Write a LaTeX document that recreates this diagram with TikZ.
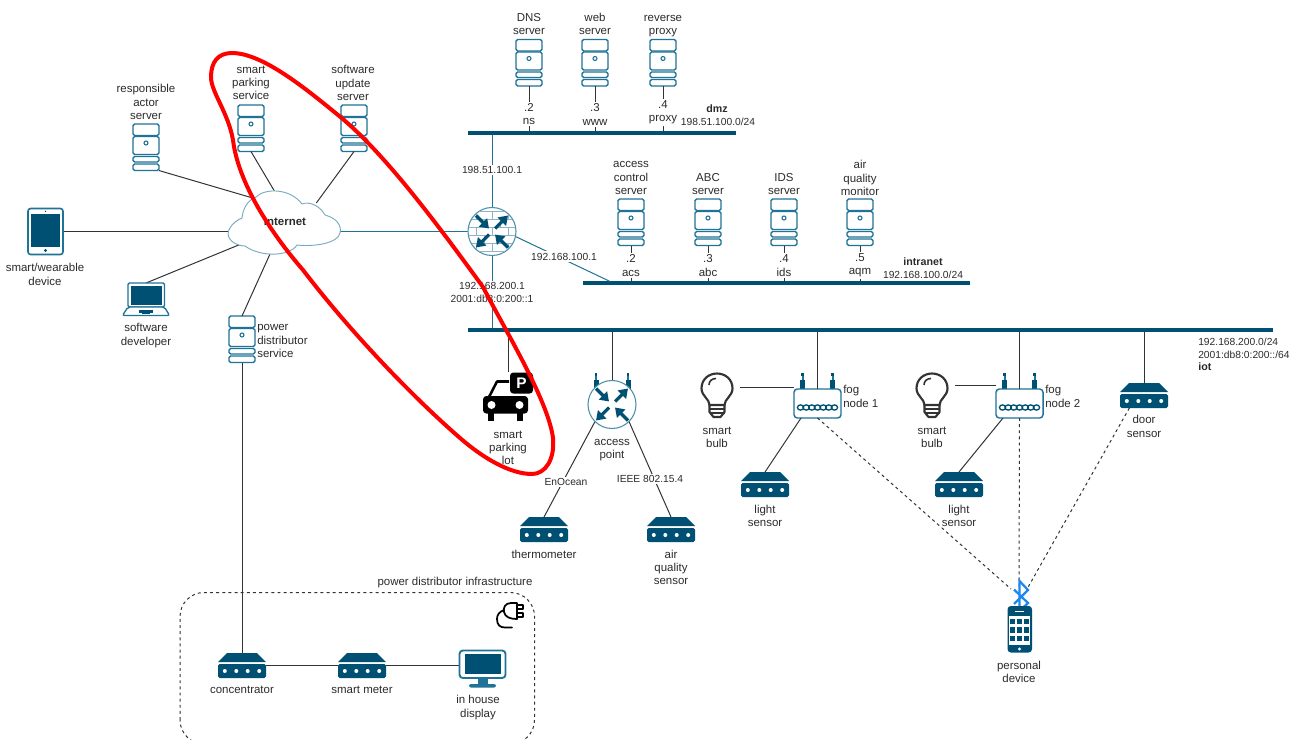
\documentclass[tikz,border=0pt]{standalone}
\usepackage{fontspec}
\setmainfont{Liberation Sans}
\usetikzlibrary{arrows.meta,shapes.geometric,calc}
\definecolor{dk}{HTML}{005073}
\definecolor{md}{HTML}{1F7396}
\definecolor{tx}{HTML}{2B2B2B}
\definecolor{lnk}{HTML}{333333}
\definecolor{brick}{HTML}{8DB4C6}
\definecolor{btblue}{HTML}{1E88F0}
\tikzset{
  lbl/.style={align=center,inner sep=0pt,text=tx,font=\fontsize{8.6}{10}\selectfont},
  ipl/.style={lbl,font=\fontsize{7.7}{10}\selectfont},
  lbll/.style={lbl,align=left,anchor=west},
  ipll/.style={ipl,align=left,anchor=west},
  blbl/.style={lbl,font=\fontsize{8}{10}\selectfont\bfseries},
  wlbl/.style={lbl,fill=white,inner sep=1.2pt},
  wipl/.style={ipl,fill=white,inner sep=1.2pt},
  hold/.style={inner sep=0pt,outer sep=0pt,anchor=north},
  srvbox/.style={hold,minimum width=19.5pt,minimum height=34.9pt},
  snsbox/.style={hold,minimum width=36pt,minimum height=18.75pt},
  circbox/.style={circle,inner sep=0pt,outer sep=0pt,minimum size=36pt},
  fogbox/.style={hold,minimum width=35.25pt,minimum height=21.75pt},
  bus/.style={fill=dk,inner sep=0pt,outer sep=0pt,anchor=west,minimum height=2.6pt},
  wire/.style={draw=lnk,line width=0.75pt},
  cwire/.style={wire,shorten >=-3pt},
  bluewire/.style={draw=md,line width=0.75pt},
  dashwire/.style={draw=lnk,line width=0.75pt,dash pattern=on 2.2pt off 2.4pt},
  icn/.style={draw=md,line width=1pt,fill=white,rounded corners=1.2pt},
  arr/.style={draw=dk,line width=2.4pt,-{Triangle[length=6.5pt,width=8.5pt]}},
  pics/server/.style={code={
    \path[icn] (-13,0) rectangle (13,11.5);
    \path[icn] (-13,12.5) rectangle (13,30.5);
    \path[icn] (-13,32.5) rectangle (13,38);
    \path[icn] (-13,40) rectangle (13,46.5);
    \draw[md,line width=0.8pt] (0,19) circle (2);
  }},
  pics/sensor/.style={code={
    \fill[dk] (-15,0) -- (15,0) -- (24,9) -- (-24,9) -- cycle;
    \fill[dk,rounded corners=1.2pt] (-24,11) rectangle (24,25);
    \foreach \q in {-17.2,-5.7,5.7,17.2} \fill[white] (\q,18) circle (2);
  }},
  pics/arrows/.style={code={
    \draw[arr] (-16,-16) -- (-3,-3);
    \draw[arr] (3,-3) -- (16,-16);
    \draw[arr] (-3,3) -- (-16,16);
    \draw[arr] (16,16) -- (3,3);
  }},
  pics/antenna/.style={code={
    \fill[md] (-1,0) rectangle (1,9);
    \fill[dk] (-2.5,7) -- (2.5,7) -- (2.5,17) -- (-2.5,17) -- cycle;
    \fill[dk] (-1.2,0) rectangle (1.2,3);
  }},
  pics/fog/.style={code={
    \path[icn,line width=1.1pt,rounded corners=2.5pt] (-23.5,0) rectangle (23.5,29);
    \foreach \q in {-17,-11.3,-5.7,0,5.7,11.3,17}
      \draw[dk,line width=1pt] (\q,18.5) ellipse (3.1 and 2.6);
  }},
  pics/bulb/.style={code={
    \draw[lnk,line width=1.6pt,line join=round,fill=white]
      (-7.5,32) .. controls (-7.5,26) and (-15.5,23) .. (-15.5,15.5)
      .. controls (-15.5,6) and (-8,0.5) .. (0,0.5)
      .. controls (8,0.5) and (15.5,6) .. (15.5,15.5)
      .. controls (15.5,23) and (7.5,26) .. (7.5,32) -- cycle;
    \draw[lnk,line width=1.2pt] (-8,12) .. controls (-8,8) and (-5,5.5) .. (-1,5.5);
    \draw[lnk,line width=1.6pt,line join=round] (-7.5,32) -- (-7.5,39) -- (-3.5,44) -- (3.5,44) -- (7.5,39) -- (7.5,32);
    \draw[lnk,line width=1.3pt] (-7.5,36) -- (7.5,36) (-7.5,40) -- (7.5,40);
  }}
}
\newcommand{\srv}[3]{\node[srvbox] (#1) at (#2,#3) {}; \pic at (#1.north) {server};}
\newcommand{\sns}[3]{\node[snsbox] (#1) at (#2,#3) {}; \pic at (#1.north) {sensor};}
\newcommand{\fognode}[3]{\node[fogbox] (#1) at (#2,#3) {};
  \pic at ([xshift=-11.25pt,yshift=12pt]#1.north) {antenna};
  \pic at ([xshift=11.25pt,yshift=12pt]#1.north) {antenna};
  \pic at (#1.north) {fog};}
\begin{document}
\begin{tikzpicture}[x=0.75pt,y=-0.75pt]
\useasboundingbox (0,0) rectangle (1298,739);

% buses
\node[bus,minimum width=201pt] (dmz) at (468,133) {};
\node[bus,minimum width=290.25pt] (intra) at (583,283) {};
\node[bus,minimum width=603.75pt] (iot) at (468,330) {};

% servers
\srv{dns}{529}{39.5}
\srv{web}{595}{39.5}
\srv{rev}{663}{39.5}
\srv{acs}{631}{199}
\srv{abc}{708}{199}
\srv{ids}{784}{199}
\srv{aqm}{860}{199}
\srv{sps}{251}{105}
\srv{sus}{354}{105}
\srv{rac}{146}{124}
\srv{pds}{242}{316}

% sensors
\sns{therm}{544}{517}
\sns{airs}{671}{517}
\sns{ls1}{765}{472}
\sns{ls2}{959}{472}
\sns{door}{1144}{383}
\sns{conc}{242}{653}
\sns{meter}{362}{653}

% holders for the other icons
\node[circbox] (fw) at (492,231.5) {};
\node[circbox] (ap) at (612,404.5) {};
\fognode{fog1}{817.5}{389}
\fognode{fog2}{1019.5}{389}
\node[hold,minimum width=24pt,minimum height=33pt] (bulb1) at (717,373) {};
\node[hold,minimum width=24pt,minimum height=33pt] (bulb2) at (932,373) {};
\pic at (bulb1.north) {bulb};
\pic at (bulb2.north) {bulb};
\node[hold,minimum width=26.25pt,minimum height=34.5pt] (tablet) at (45.5,208.5) {};
\node[hold,minimum width=36pt,minimum height=24.75pt] (laptop) at (146,283) {};
\node[hold,minimum width=35.25pt,minimum height=27.75pt] (disp) at (482.5,650) {};
\node[hold,minimum width=18.75pt,minimum height=35pt] (phone) at (1019.5,606) {};
\node[hold,minimum width=33pt,minimum height=36pt] (car) at (508,372) {};
\node[ellipse,inner sep=0pt,outer sep=0pt,minimum width=84pt,minimum height=46.5pt] (cloud) at (284,224) {};
\coordinate (btl) at (1011,589);
\coordinate (btc) at (1019,589);
\coordinate (btr) at (1027,589);

% connectors
\draw[cwire] (rac.south east) -- (cloud.140);
\draw[cwire] (sps.south) -- (cloud.105);
\draw[cwire] (sus.south) -- (cloud.35);
\draw[wire] (tablet.east) -- (tablet.east -| cloud.west);
\draw[cwire] (laptop.north) -- (cloud.205);
\draw[cwire] (pds.north) -- (cloud.245);
\draw[wire] (pds.south) -- (conc.north);
\draw[bluewire] (cloud.east |- fw.west) -- (fw.west);
\draw[bluewire] (fw.north) -- (fw.north |- dmz.south);
\draw[bluewire] (fw.south) -- (fw.south |- iot.north);
\draw[bluewire] (fw.-12) -- ([xshift=20pt]intra.north west);
\draw[wire] (dns.south) -- (dns.south |- dmz.north);
\draw[wire] (web.south) -- (web.south |- dmz.north);
\draw[wire] (rev.south) -- (rev.south |- dmz.north);
\draw[wire] (acs.south) -- (acs.south |- intra.north);
\draw[wire] (abc.south) -- (abc.south |- intra.north);
\draw[wire] (ids.south) -- (ids.south |- intra.north);
\draw[wire] (aqm.south) -- (aqm.south |- intra.north);
\draw[wire] (car.north |- iot.south) -- (car.north);
\draw[wire] (ap.north |- iot.south) -- (ap.north);
\draw[wire] (ap.225) -- (therm.north);
\draw[wire] (ap.315) -- (airs.north);
\draw[wire] (fog1.north |- iot.south) -- (fog1.north);
\draw[wire] (fog2.north |- iot.south) -- (fog2.north);
\draw[wire] (door.north |- iot.south) -- (door.north);
\draw[wire] ([yshift=6pt]bulb1.east) ++(5.5pt,0) coordinate (b1e) -- (b1e -| fog1.west);
\draw[wire] ([yshift=7pt]bulb2.east) ++(5.5pt,0) coordinate (b2e) -- (b2e -| fog2.west);
\draw[wire] ([xshift=5.25pt]fog1.south west) -- (ls1.north);
\draw[wire] ([xshift=5.25pt]fog2.south west) -- (ls2.north);
\draw[wire] (conc.east) -- (meter.west);
\draw[wire] (meter.east) -- (disp.west |- meter.east);
\draw[dashwire] (fog1.south) -- (btl);
\draw[dashwire] (fog2.south) -- (btc);
\draw[dashwire] ([xshift=-11pt]door.south) -- (btr);

% cloud
\draw[draw=md!60,line width=0.7pt,fill=white]
  (242,218) .. controls (243,208) and (248,200) .. (256,197)
  .. controls (265,188) and (290,188) .. (302,204)
  .. controls (310,201) and (320,206) .. (325,215)
  .. controls (336,218) and (342,225) .. (340,233)
  .. controls (338,243) and (315,247) .. (297,245)
  .. controls (290,256) and (262,258) .. (245,246)
  .. controls (230,245) and (225,235) .. (230,228)
  .. controls (232,224) and (237,220) .. (242,218) -- cycle;

% firewall router
\draw[md!80,line width=0.8pt,fill=white] (fw) circle (18pt);
\begin{scope}
  \clip (fw) circle (17.6pt);
  \foreach \q in {-20,-12,-4,4,12,20}
    \draw[brick,line width=0.6pt] ($(fw)+(-26,\q)$) -- ($(fw)+(26,\q)$);
  \foreach \q in {-16,0,16}{
    \draw[brick,line width=0.6pt] ($(fw)+(\q,-20)$) -- ($(fw)+(\q,-12)$);
    \draw[brick,line width=0.6pt] ($(fw)+(\q,-4)$) -- ($(fw)+(\q,4)$);
    \draw[brick,line width=0.6pt] ($(fw)+(\q,12)$) -- ($(fw)+(\q,20)$);
  }
  \foreach \q in {-24,-8,8,24}{
    \draw[brick,line width=0.6pt] ($(fw)+(\q,-12)$) -- ($(fw)+(\q,-4)$);
    \draw[brick,line width=0.6pt] ($(fw)+(\q,4)$) -- ($(fw)+(\q,12)$);
  }
\end{scope}
\pic at (fw) {arrows};

% access point
\pic at ([xshift=-12pt,yshift=5.6pt]ap.north) {antenna};
\pic at ([xshift=12pt,yshift=5.6pt]ap.north) {antenna};
\draw[md!80,line width=0.8pt,fill=white] (ap) circle (18pt);
\pic at (ap) {arrows};

% tablet
\draw[md,line width=1.2pt,fill=white,rounded corners=2pt] (28,208.5) rectangle (63,254.5);
\fill[dk] (31,214) rectangle (60,247);
\fill[dk] (45.5,250.5) circle (1.7);
\fill[dk] (45.5,211.3) circle (0.8);

% laptop
\draw[md,line width=1pt,fill=white,rounded corners=1pt] (128,283) rectangle (164.5,307);
\fill[dk] (130.5,285.5) rectangle (162,305);
\draw[md,line width=1pt,fill=white,rounded corners=1.5pt] (128,307) -- (122.5,315.5) -- (169.5,315.5) -- (164.5,307) -- cycle;
\fill[dk] (139,310) rectangle (153,312.5);
\fill[dk] (142,312.5) rectangle (150,314);

% monitor
\draw[md,line width=1.4pt,fill=white,rounded corners=2.5pt] (459.5,650.5) rectangle (505.5,678);
\fill[dk] (464.5,654) rectangle (501,674);
\fill[md] (478,678) rectangle (488,685);
\fill[md,rounded corners=1.5pt] (469,684) rectangle (496,687.5);

% bluetooth
\draw[btblue,line width=1.7pt,line join=miter] (1014,589.5) -- (1028,603) -- (1019.5,611) -- (1019.5,581) -- (1028,590) -- (1014,604);

% phone
\fill[dk,rounded corners=2.5pt] (1007.5,606) rectangle (1032,652.5);
\fill[white] (1009,615.7) rectangle (1030.3,645);
\fill[white] (1015,611) rectangle (1024,612);
\fill[white] (1019.5,649) circle (1.6);
\foreach \cx in {1010,1016.8,1024}
  \foreach \cy in {619,627.3,635.7}
    \fill[dk] (\cx,\cy) rectangle ++(5.3,5.2);

% car
\fill[black,rounded corners=2.5pt] (483,396) rectangle (528,413.5);
\fill[black] (488,412) rectangle (494,420.5);
\fill[black] (517,412) rectangle (523,420.5);
\draw[black,line width=1.9pt,line join=round] (489,397) -- (497,381.5) -- (509,381.5);
\fill[white] (491.5,405) circle (4);
\fill[white] (519.5,405) circle (4);
\fill[black,rounded corners=2.5pt] (510,372.5) rectangle (533,393.5);
\node[inner sep=0pt,text=white,font=\fontsize{11.5}{12}\selectfont\bfseries] (pmark) at (521.5,383) {P};

% plug
\draw[black,line width=1.3pt,line join=round,line cap=round]
  (517,603) -- (511,603) .. controls (505,603) and (503,608) .. (504,612)
  .. controls (505,617) and (510,619) .. (517,619) -- cycle;
\draw[black,line width=1.1pt,line join=round] (517,605) -- (523,605) -- (523,609) -- (517,609);
\draw[black,line width=1.1pt,line join=round] (517,613) -- (523,613) -- (523,617) -- (517,617);
\draw[black,line width=1.3pt,line cap=round] (504,610) .. controls (499,612) and (497,615) .. (497,619)
  .. controls (497,625) and (500,627.5) .. (505,627.5) -- (512,627.5);

% dashed group box
\begin{scope}
  \clip (0,0) rectangle (1298,739);
  \draw[dashwire,rounded corners=18pt] (180,744) rectangle (534.5,592.5);
\end{scope}

% labels
\node[lbl] (t1) at (529,24) {DNS\\server};
\node[lbl] (t2) at (595,24) {web\\server};
\node[lbl] (t3) at (663,26) {reverse\\proxy};
\node[wlbl] (t4) at (529,114) {.2\\ns};
\node[wlbl] (t5) at (595,114.5) {.3\\www};
\node[wlbl] (t6) at (663,112.5) {.4\\proxy};
\node[blbl] (t7) at (717,109) {dmz};
\node[ipl] (t8) at (718,122) {198.51.100.0/24};
\node[wipl] (t9) at (492,170) {198.51.100.1};
\node[wipl] (t10) at (564,256.5) {192.168.100.1};
\node[wipl] (t11) at (492,292.5) {192.168.200.1\\2001:db8:0:200::1};
\node[lbl] (t12) at (631,178) {access\\control\\server};
\node[lbl] (t13) at (708,184) {ABC\\server};
\node[lbl] (t14) at (784,184) {IDS\\server};
\node[lbl] (t15) at (860,178) {air\\quality\\monitor};
\node[wlbl] (t16) at (631,265.5) {.2\\acs};
\node[wlbl] (t17) at (708,265.5) {.3\\abc};
\node[wlbl] (t18) at (784,265.5) {.4\\ids};
\node[wlbl] (t19) at (860,265.5) {.5\\aqm};
\node[blbl] (t20) at (923,262) {intranet};
\node[ipl] (t21) at (923,275) {192.168.100.0/24};
\node[ipll] (t22) at (1198,348) {192.168.200.0/24\\2001:db8:0:200::/64};
\node[blbl,anchor=west] (t23) at (1198,367) {iot};
\node[lbl] (t24) at (508,448) {smart\\parking\\lot};
\node[lbl] (t25) at (612,450) {access\\point};
\node[wipl] (t26) at (566,482) {EnOcean};
\node[wipl] (t27) at (650,479) {IEEE 802.15.4};
\node[lbl] (t28) at (544,554) {thermometer};
\node[lbl] (t29) at (671,567.5) {air\\quality\\sensor};
\node[lbl] (t30) at (717,437.5) {smart\\bulb};
\node[lbll] (t31) at (843,396.5) {fog\\node 1};
\node[lbl] (t32) at (765,516) {light\\sensor};
\node[lbl] (t33) at (932,437.5) {smart\\bulb};
\node[lbll] (t34) at (1045,396.5) {fog\\node 2};
\node[lbl] (t35) at (959,516) {light\\sensor};
\node[lbl] (t36) at (1144,426.5) {door\\sensor};
\node[lbl] (t37) at (1019,672) {personal\\device};
\node[lbl] (t38) at (45,274.5) {smart/wearable\\device};
\node[lbl] (t39) at (146,335.5) {software\\developer};
\node[lbll] (t40) at (257,341) {power\\distributor\\service};
\node[lbl] (t41) at (146,102) {responsible\\actor\\server};
\node[lbl] (t42) at (251,83) {smart\\parking\\service};
\node[lbl] (t43) at (353,83) {software\\update\\server};
\node[lbl,font=\fontsize{8.6}{10}\selectfont\bfseries] (t44) at (285,222) {Internet};
\node[lbl] (t45) at (242,690) {concentrator};
\node[lbl] (t46) at (362,690) {smart meter};
\node[lbl] (t47) at (478,707.5) {in house\\display};
\node[lbl] (t48) at (455,583) {power distributor infrastructure};

% red highlight
\draw[red,line width=3pt]
  (211,77) .. controls (211,62) and (218,53) .. (232,53)
  .. controls (262,53) and (305,88) .. (338,115)
  .. controls (385,153) and (440,228) .. (483,287)
  .. controls (505,330) and (548,400) .. (553,438)
  .. controls (555,460) and (545,474) .. (532,474)
  .. controls (510,474) and (483,458) .. (460,438)
  .. controls (405,390) and (345,325) .. (303,270)
  .. controls (270,232) and (238,182) .. (233,140)
  .. controls (228,112) and (211,92) .. (211,77) -- cycle;
\end{tikzpicture}
\end{document}
